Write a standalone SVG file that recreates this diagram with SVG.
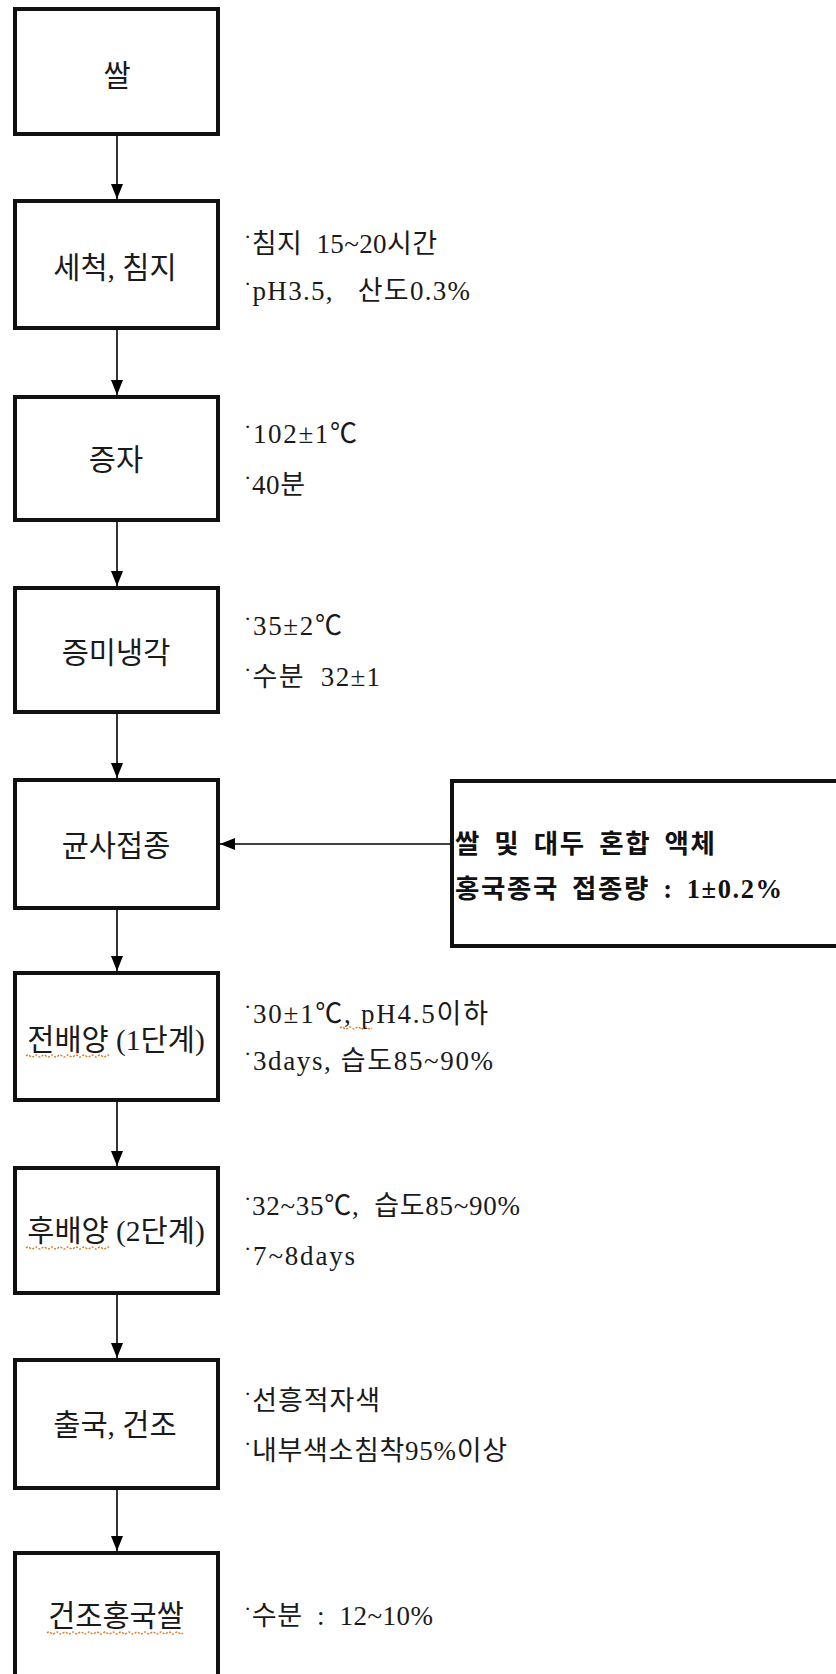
<svg xmlns="http://www.w3.org/2000/svg" width="836" height="1674" viewBox="0 0 836 1674">
<style>
.box{fill:#fff;stroke:#111;stroke-width:4}
.lbl{font-family:"Liberation Serif","Noto Sans CJK KR",serif;font-size:29.5px;fill:#1a1a1a;text-anchor:middle}
.side{font-family:"Liberation Serif","Noto Sans CJK KR",serif;font-size:27px;fill:#1a1a1a;white-space:pre}
.dot{font-size:22px}
.bold{font-family:"Liberation Serif","Noto Sans CJK KR",serif;font-size:26.5px;font-weight:bold;fill:#111;white-space:pre;word-spacing:5px}
.conn{stroke:#000;stroke-width:1.6;fill:none}
.wavy{stroke:#e0761e;stroke-width:1.3;fill:none;stroke-dasharray:2 1.5}
</style>
<defs>
<marker id="ah" markerUnits="userSpaceOnUse" markerWidth="15" markerHeight="12" refX="15" refY="6" orient="auto" viewBox="0 0 15 12"><path d="M0,0 L15,6 L0,12 z" fill="#000"/></marker>
</defs>
<rect width="836" height="1674" fill="#fff"/>
<g id="connectors">
<line class="conn" x1="117" y1="136" x2="117" y2="199" marker-end="url(#ah)"/>
<line class="conn" x1="117" y1="330" x2="117" y2="395" marker-end="url(#ah)"/>
<line class="conn" x1="117" y1="522" x2="117" y2="586" marker-end="url(#ah)"/>
<line class="conn" x1="117" y1="714" x2="117" y2="778" marker-end="url(#ah)"/>
<line class="conn" x1="117" y1="910" x2="117" y2="971" marker-end="url(#ah)"/>
<line class="conn" x1="117" y1="1102" x2="117" y2="1166" marker-end="url(#ah)"/>
<line class="conn" x1="117" y1="1295" x2="117" y2="1358" marker-end="url(#ah)"/>
<line class="conn" x1="117" y1="1490" x2="117" y2="1551" marker-end="url(#ah)"/>
<line class="conn" x1="450" y1="844" x2="220" y2="844" marker-end="url(#ah)"/>
</g>
<g id="n1">
<rect class="box" x="15" y="9" width="203" height="125"/>
<text class="lbl" x="117" y="86">쌀</text>
</g>
<g id="n2">
<rect class="box" x="15" y="201" width="203" height="127"/>
<text class="lbl" x="115" y="278">세척, 침지</text>
<text class="side" x="244" y="253" textLength="193"><tspan class="dot" dy="-9">·</tspan><tspan dy="9">침지  15~20시간</tspan></text>
<text class="side" x="244" y="300" textLength="226"><tspan class="dot" dy="-9">·</tspan><tspan dy="9">pH3.5,   산도0.3%</tspan></text>
</g>
<g id="n3">
<rect class="box" x="15" y="397" width="203" height="123"/>
<text class="lbl" x="116" y="470">증자</text>
<text class="side" x="244" y="443" textLength="113"><tspan class="dot" dy="-9">·</tspan><tspan dy="9">102±1℃</tspan></text>
<text class="side" x="244" y="494" textLength="61"><tspan class="dot" dy="-9">·</tspan><tspan dy="9">40분</tspan></text>
</g>
<g id="n4">
<rect class="box" x="15" y="588" width="203" height="124"/>
<text class="lbl" x="116" y="663">증미냉각</text>
<text class="side" x="244" y="635" textLength="98"><tspan class="dot" dy="-9">·</tspan><tspan dy="9">35±2℃</tspan></text>
<text class="side" x="244" y="686" textLength="136"><tspan class="dot" dy="-9">·</tspan><tspan dy="9">수분  32±1</tspan></text>
</g>
<g id="n5">
<rect class="box" x="15" y="780" width="203" height="128"/>
<text class="lbl" x="116" y="856">균사접종</text>
</g>
<g id="n5b">
<rect class="box" x="452" y="781" width="420" height="165"/>
<text class="bold" x="455" y="853" textLength="260">쌀 및 대두 혼합 액체</text>
<text class="bold" x="455" y="898" textLength="327">홍국종국 접종량 : 1±0.2%</text>
</g>
<g id="n6">
<rect class="box" x="15" y="973" width="203" height="127"/>
<text class="lbl" x="116" y="1050">전배양 (1단계)</text>
<path class="wavy" d="M26,1056 q2,-2 4,0 t4,0 t4,0 t4,0 t4,0 t4,0 t4,0 t4,0 t4,0 t4,0 t4,0 t4,0 t4,0 t4,0 t4,0 t4,0 t4,0 t4,0 t4,0 t4,0 t4,0"/>
<text class="side" x="244" y="1023" textLength="244"><tspan class="dot" dy="-9">·</tspan><tspan dy="9">30±1℃, pH4.5이하</tspan></text>
<path class="wavy" d="M340,1028 q2,-2 4,0 t4,0 t4,0 t4,0 t4,0 t4,0 t4,0 t4,0"/>
<text class="side" x="244" y="1070" textLength="249"><tspan class="dot" dy="-9">·</tspan><tspan dy="9">3days, 습도85~90%</tspan></text>
</g>
<g id="n7">
<rect class="box" x="15" y="1168" width="203" height="125"/>
<text class="lbl" x="116" y="1241">후배양 (2단계)</text>
<path class="wavy" d="M26,1248 q2,-2 4,0 t4,0 t4,0 t4,0 t4,0 t4,0 t4,0 t4,0 t4,0 t4,0 t4,0 t4,0 t4,0 t4,0 t4,0 t4,0 t4,0 t4,0 t4,0 t4,0 t4,0"/>
<text class="side" x="244" y="1215" textLength="276"><tspan class="dot" dy="-9">·</tspan><tspan dy="9">32~35℃,  습도85~90%</tspan></text>
<text class="side" x="244" y="1265" textLength="111"><tspan class="dot" dy="-9">·</tspan><tspan dy="9">7~8days</tspan></text>
</g>
<g id="n8">
<rect class="box" x="15" y="1360" width="203" height="128"/>
<text class="lbl" x="115" y="1435">출국, 건조</text>
<text class="side" x="244" y="1410" textLength="136"><tspan class="dot" dy="-9">·</tspan><tspan dy="9">선흥적자색</tspan></text>
<text class="side" x="244" y="1460" textLength="263"><tspan class="dot" dy="-9">·</tspan><tspan dy="9">내부색소침착95%이상</tspan></text>
</g>
<g id="n9">
<rect class="box" x="15" y="1553" width="203" height="140"/>
<text class="lbl" x="116" y="1626">건조홍국쌀</text>
<path class="wavy" d="M47,1633 q2,-2 4,0 t4,0 t4,0 t4,0 t4,0 t4,0 t4,0 t4,0 t4,0 t4,0 t4,0 t4,0 t4,0 t4,0 t4,0 t4,0 t4,0 t4,0 t4,0 t4,0 t4,0 t4,0 t4,0 t4,0 t4,0 t4,0 t4,0 t4,0 t4,0 t4,0 t4,0 t4,0 t4,0 t4,0"/>
<text class="side" x="244" y="1625" textLength="189"><tspan class="dot" dy="-9">·</tspan><tspan dy="9">수분  :  12~10%</tspan></text>
</g>
</svg>
